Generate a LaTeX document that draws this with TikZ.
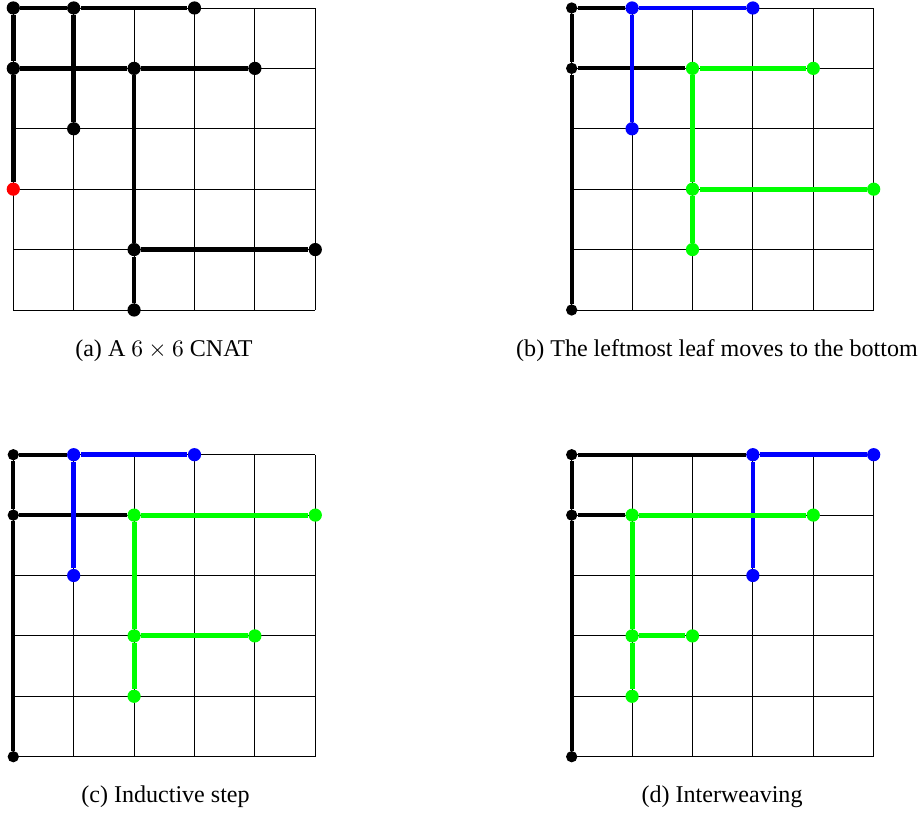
\documentclass[tikz,border=0pt]{standalone}
\usepackage[no-math]{fontspec}
\setmainfont{Liberation Serif}
\usepackage{xcolor}
\usepackage{tikz}
\usetikzlibrary{positioning}
\definecolor{leafblue}{HTML}{0000FF}
\definecolor{leafgreen}{HTML}{00FF00}
\definecolor{rootred}{HTML}{FF0000}

\begin{document}
\begin{tikzpicture}[
  x=0.9cm, y=0.9cm,
  cell/.style={line width=0.4pt, color=black, step={(1,1)}},
  dot/.style={circle, fill=black, inner sep=0pt, minimum size=5.6pt},
  sdot/.style={dot, minimum size=4.8pt},
  bdot/.style={dot, fill=leafblue, minimum size=5.6pt},
  gdot/.style={dot, fill=leafgreen, minimum size=5.6pt},
  rdot/.style={dot, fill=rootred},
  blk/.style={line width=1.9pt, color=black},
  sblk/.style={blk, line width=1.7pt},
  blu/.style={line width=2pt, color=leafblue},
  grn/.style={line width=2.1pt, color=leafgreen},
  subcap/.style={anchor=base, inner sep=0pt, font=\fontsize{10.2}{12}\selectfont},
]
  \useasboundingbox (0,0) rectangle (15.298,-13.46);

  \begin{scope}[shift={(0.220,-5.132)}]
    \draw[cell] (0,0) grid (5,5);
    \node[dot] (a05) at (0,5) {};
    \node[dot] (a15) at (1,5) {};
    \node[dot] (a35) at (3,5) {};
    \node[dot] (a04) at (0,4) {};
    \node[dot] (a24) at (2,4) {};
    \node[dot] (a44) at (4,4) {};
    \node[dot] (a13) at (1,3) {};
    \node[rdot] (a02) at (0,2) {};
    \node[dot] (a21) at (2,1) {};
    \node[dot] (a51) at (5,1) {};
    \node[dot] (a20) at (2,0) {};
    \draw[blk] (a05) -- (a04);
    \draw[blk] (a04) -- (a02);
    \draw[blk] (a05) -- (a15);
    \draw[blk] (a15) -- (a35);
    \draw[blk] (a15) -- (a13);
    \draw[blk] (a04) -- (a24);
    \draw[blk] (a24) -- (a44);
    \draw[blk] (a24) -- (a21);
    \draw[blk] (a21) -- (a20);
    \draw[blk] (a21) -- (a51);
  \end{scope}

  \begin{scope}[shift={(9.465,-5.132)}]
    \draw[cell] (0,0) grid (5,5);
    \node[sdot] (b05) at (0,5) {};
    \node[sdot] (b04) at (0,4) {};
    \node[sdot] (b00) at (0,0) {};
    \node[bdot] (b15) at (1,5) {};
    \node[bdot] (b35) at (3,5) {};
    \node[bdot] (b13) at (1,3) {};
    \node[gdot] (b24) at (2,4) {};
    \node[gdot] (b44) at (4,4) {};
    \node[gdot] (b22) at (2,2) {};
    \node[gdot] (b52) at (5,2) {};
    \node[gdot] (b21) at (2,1) {};
    \draw[sblk] (b05) -- (b04);
    \draw[sblk] (b04) -- (b00);
    \draw[sblk] (b05) -- (b15);
    \draw[sblk] (b04) -- (b24);
    \draw[blu] (b15) -- (b35);
    \draw[blu] (b15) -- (b13);
    \draw[grn] (b24) -- (b44);
    \draw[grn] (b24) -- (b22);
    \draw[grn] (b22) -- (b21);
    \draw[grn] (b22) -- (b52);
  \end{scope}

  \begin{scope}[shift={(0.220,-12.528)}]
    \draw[cell] (0,0) grid (5,5);
    \node[sdot] (c05) at (0,5) {};
    \node[sdot] (c04) at (0,4) {};
    \node[sdot] (c00) at (0,0) {};
    \node[bdot] (c15) at (1,5) {};
    \node[bdot] (c35) at (3,5) {};
    \node[bdot] (c13) at (1,3) {};
    \node[gdot] (c24) at (2,4) {};
    \node[gdot] (c54) at (5,4) {};
    \node[gdot] (c22) at (2,2) {};
    \node[gdot] (c42) at (4,2) {};
    \node[gdot] (c21) at (2,1) {};
    \draw[sblk] (c05) -- (c04);
    \draw[sblk] (c04) -- (c00);
    \draw[sblk] (c05) -- (c15);
    \draw[sblk] (c04) -- (c24);
    \draw[blu] (c15) -- (c35);
    \draw[blu] (c15) -- (c13);
    \draw[grn] (c24) -- (c54);
    \draw[grn] (c24) -- (c22);
    \draw[grn] (c22) -- (c21);
    \draw[grn] (c22) -- (c42);
  \end{scope}

  \begin{scope}[shift={(9.465,-12.528)}]
    \draw[cell] (0,0) grid (5,5);
    \node[sdot] (d05) at (0,5) {};
    \node[sdot] (d04) at (0,4) {};
    \node[sdot] (d00) at (0,0) {};
    \node[bdot] (d35) at (3,5) {};
    \node[bdot] (d55) at (5,5) {};
    \node[bdot] (d33) at (3,3) {};
    \node[gdot] (d14) at (1,4) {};
    \node[gdot] (d44) at (4,4) {};
    \node[gdot] (d12) at (1,2) {};
    \node[gdot] (d22) at (2,2) {};
    \node[gdot] (d11) at (1,1) {};
    \draw[sblk] (d05) -- (d04);
    \draw[sblk] (d04) -- (d00);
    \draw[sblk] (d05) -- (d35);
    \draw[sblk] (d04) -- (d14);
    \draw[blu] (d35) -- (d55);
    \draw[blu] (d35) -- (d33);
    \draw[grn] (d14) -- (d44);
    \draw[grn] (d14) -- (d12);
    \draw[grn] (d12) -- (d11);
    \draw[grn] (d12) -- (d22);
  \end{scope}

  \node[subcap] (capa) at (2.715,-5.894) {(a) A $6 \times 6$ CNAT};
  \node[subcap] (capb) at (11.871,-5.894) {(b) The leftmost leaf moves to the bottom};
  \node[subcap] (capc) at (2.74,-13.278) {(c) Inductive step};
  \node[subcap] (capd) at (11.954,-13.278) {(d) Interweaving};
\end{tikzpicture}
\end{document}
